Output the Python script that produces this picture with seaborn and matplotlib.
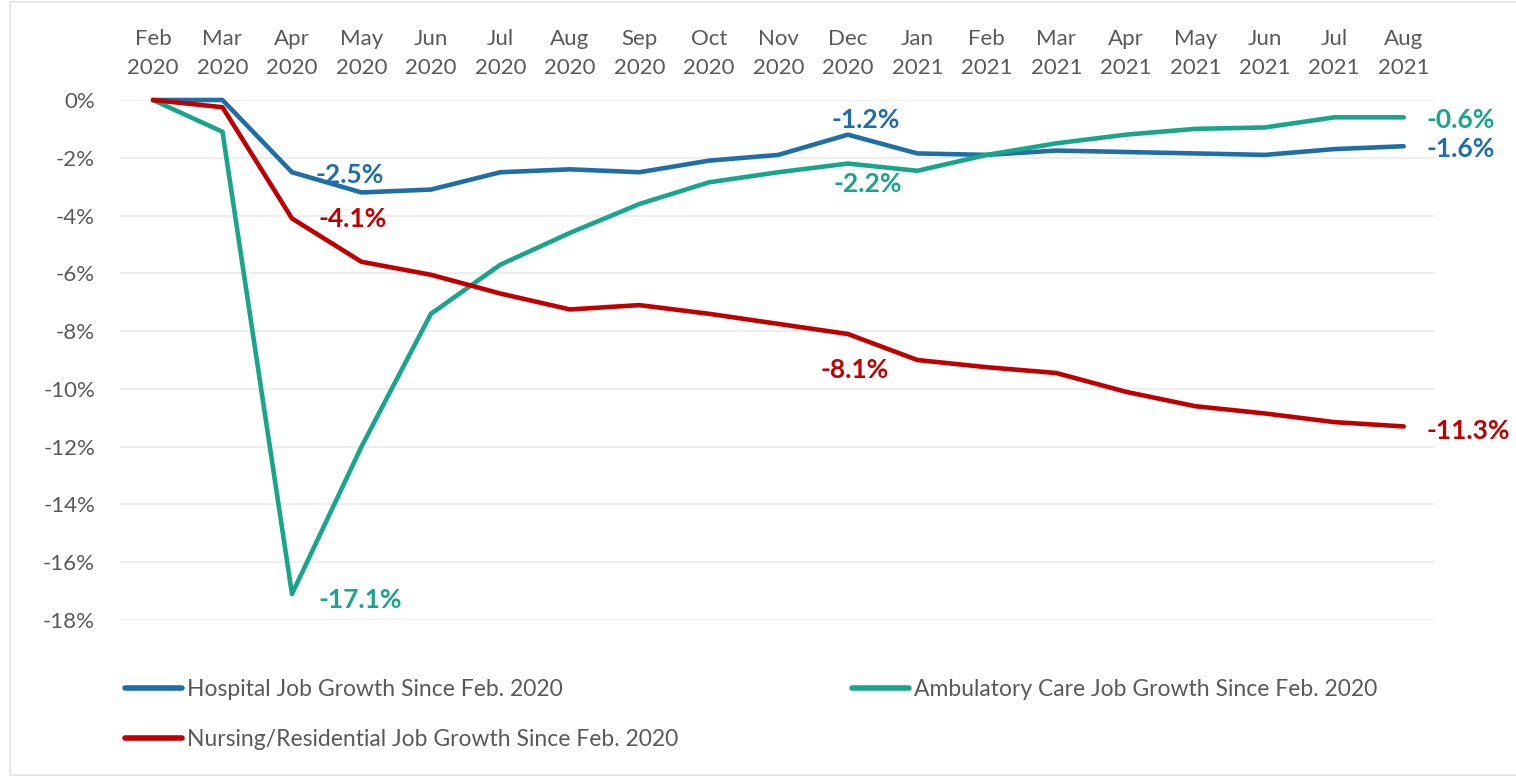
import matplotlib
matplotlib.use("Agg")
import matplotlib.pyplot as plt
import matplotlib.patches as mpatches
import seaborn as sns
import pandas as pd

# Months on the x axis (two-line labels)
months = ["Feb\n2020", "Mar\n2020", "Apr\n2020", "May\n2020", "Jun\n2020", "Jul\n2020",
          "Aug\n2020", "Sep\n2020", "Oct\n2020", "Nov\n2020", "Dec\n2020", "Jan\n2021",
          "Feb\n2021", "Mar\n2021", "Apr\n2021", "May\n2021", "Jun\n2021", "Jul\n2021",
          "Aug\n2021"]

# Cumulative job growth since Feb. 2020, in percent
hospital = [0.0, 0.0, -2.5, -3.2, -3.1, -2.5, -2.4, -2.5, -2.1, -1.9, -1.2, -1.85,
            -1.9, -1.75, -1.8, -1.85, -1.9, -1.7, -1.6]
ambulatory = [0.0, -1.1, -17.1, -12.0, -7.4, -5.7, -4.6, -3.6, -2.85, -2.5, -2.2, -2.45,
              -1.9, -1.5, -1.2, -1.0, -0.95, -0.6, -0.6]
nursing = [0.0, -0.25, -4.1, -5.6, -6.05, -6.7, -7.25, -7.1, -7.4, -7.75, -8.1, -9.0,
           -9.25, -9.45, -10.1, -10.6, -10.85, -11.15, -11.3]

series_names = ["Hospital Job Growth Since Feb. 2020",
                "Ambulatory Care Job Growth Since Feb. 2020",
                "Nursing/Residential Job Growth Since Feb. 2020"]
series_colors = ["#1F6EA6", "#19A58A", "#C00000"]

yticks = [0, -2, -4, -6, -8, -10, -12, -14, -16, -18]

rows = []
for name, vals in zip(series_names, [hospital, ambulatory, nursing]):
    for i, v in enumerate(vals):
        rows.append({"month": i, "growth": v, "series": name})
df = pd.DataFrame(rows)

sns.set_theme(style="white")
plt.rcParams["font.family"] = ["Lato", "DejaVu Sans"]

W, H = 1516, 777
fig = plt.figure(figsize=(W / 100, H / 100), dpi=100)
ax = fig.add_axes([120 / W, 1 - 620 / H, 1315 / W, 520 / H])

palette = dict(zip(series_names, series_colors))
sns.lineplot(data=df, x="month", y="growth", hue="series", hue_order=series_names,
             palette=palette, linewidth=3.3, sort=False, ax=ax, legend=False,
             clip_on=False, zorder=3)

ax.set_xlim(-0.475, 18.45)
ax.set_ylim(-18, 0)
ax.set_xticks(range(len(months)))
ax.set_xticklabels(months, fontsize=16, color="#595959", linespacing=1.62)
ax.xaxis.tick_top()
ax.tick_params(axis="x", length=0, pad=15.5)
ax.set_yticks(yticks)
ax.set_yticklabels([f"{t}%" for t in yticks], fontsize=16, color="#595959")
ax.tick_params(axis="y", length=0, pad=18)
ax.set_xlabel("")
ax.set_ylabel("")
for sp in ax.spines.values():
    sp.set_visible(False)
ax.grid(axis="y", color="#EBEBEB", linewidth=1.2, zorder=0)
ax.grid(axis="x", visible=False)

# Value callouts
def callout(values, idx, color, dx, dy, ha="center"):
    v = values[idx]
    ax.annotate(f"{v:.1f}%", xy=(idx, v), xytext=(dx, dy), textcoords="offset pixels",
                ha=ha, va="center", fontsize=19, fontweight="bold", color=color,
                zorder=4)

callout(hospital, 2, series_colors[0], 58, -3)
callout(nursing, 2, series_colors[2], 61, -1)
callout(ambulatory, 2, series_colors[1], 68, -6)
callout(hospital, 10, series_colors[0], 18, 15)
callout(ambulatory, 10, series_colors[1], 20, -20)
callout(nursing, 10, series_colors[2], 7, -36)
callout(ambulatory, 18, series_colors[1], 23, -3, ha="left")
callout(hospital, 18, series_colors[0], 23, -3, ha="left")
callout(nursing, 18, series_colors[2], 23, -5, ha="left")

# Legend: Hospital and Nursing on the left, Ambulatory on the right
def line_handle(c):
    return plt.Line2D([], [], color=c, linewidth=4)

leg_kw = dict(loc="upper left", frameon=False, fontsize=16.5, handlelength=2.5,
              handletextpad=0.2, labelspacing=1.25, borderaxespad=0, borderpad=0)
leg1 = fig.legend([line_handle(series_colors[0]), line_handle(series_colors[2])],
                  [series_names[0], series_names[2]],
                  bbox_to_anchor=(125 / W, 1 - 679 / H), **leg_kw)
leg2 = fig.legend([line_handle(series_colors[1])], [series_names[1]],
                  bbox_to_anchor=(852 / W, 1 - 679 / H), **leg_kw)
for leg in (leg1, leg2):
    for t in leg.get_texts():
        t.set_color("#595959")

# Faint chart-area border
fig.patches.append(mpatches.Rectangle((10 / W, 2 / H), 1.1, 1 - 4 / H,
                                      transform=fig.transFigure, fill=False,
                                      edgecolor="#E3E3E3", linewidth=1.2))

fig.savefig("out.png", dpi=100, facecolor="white")
